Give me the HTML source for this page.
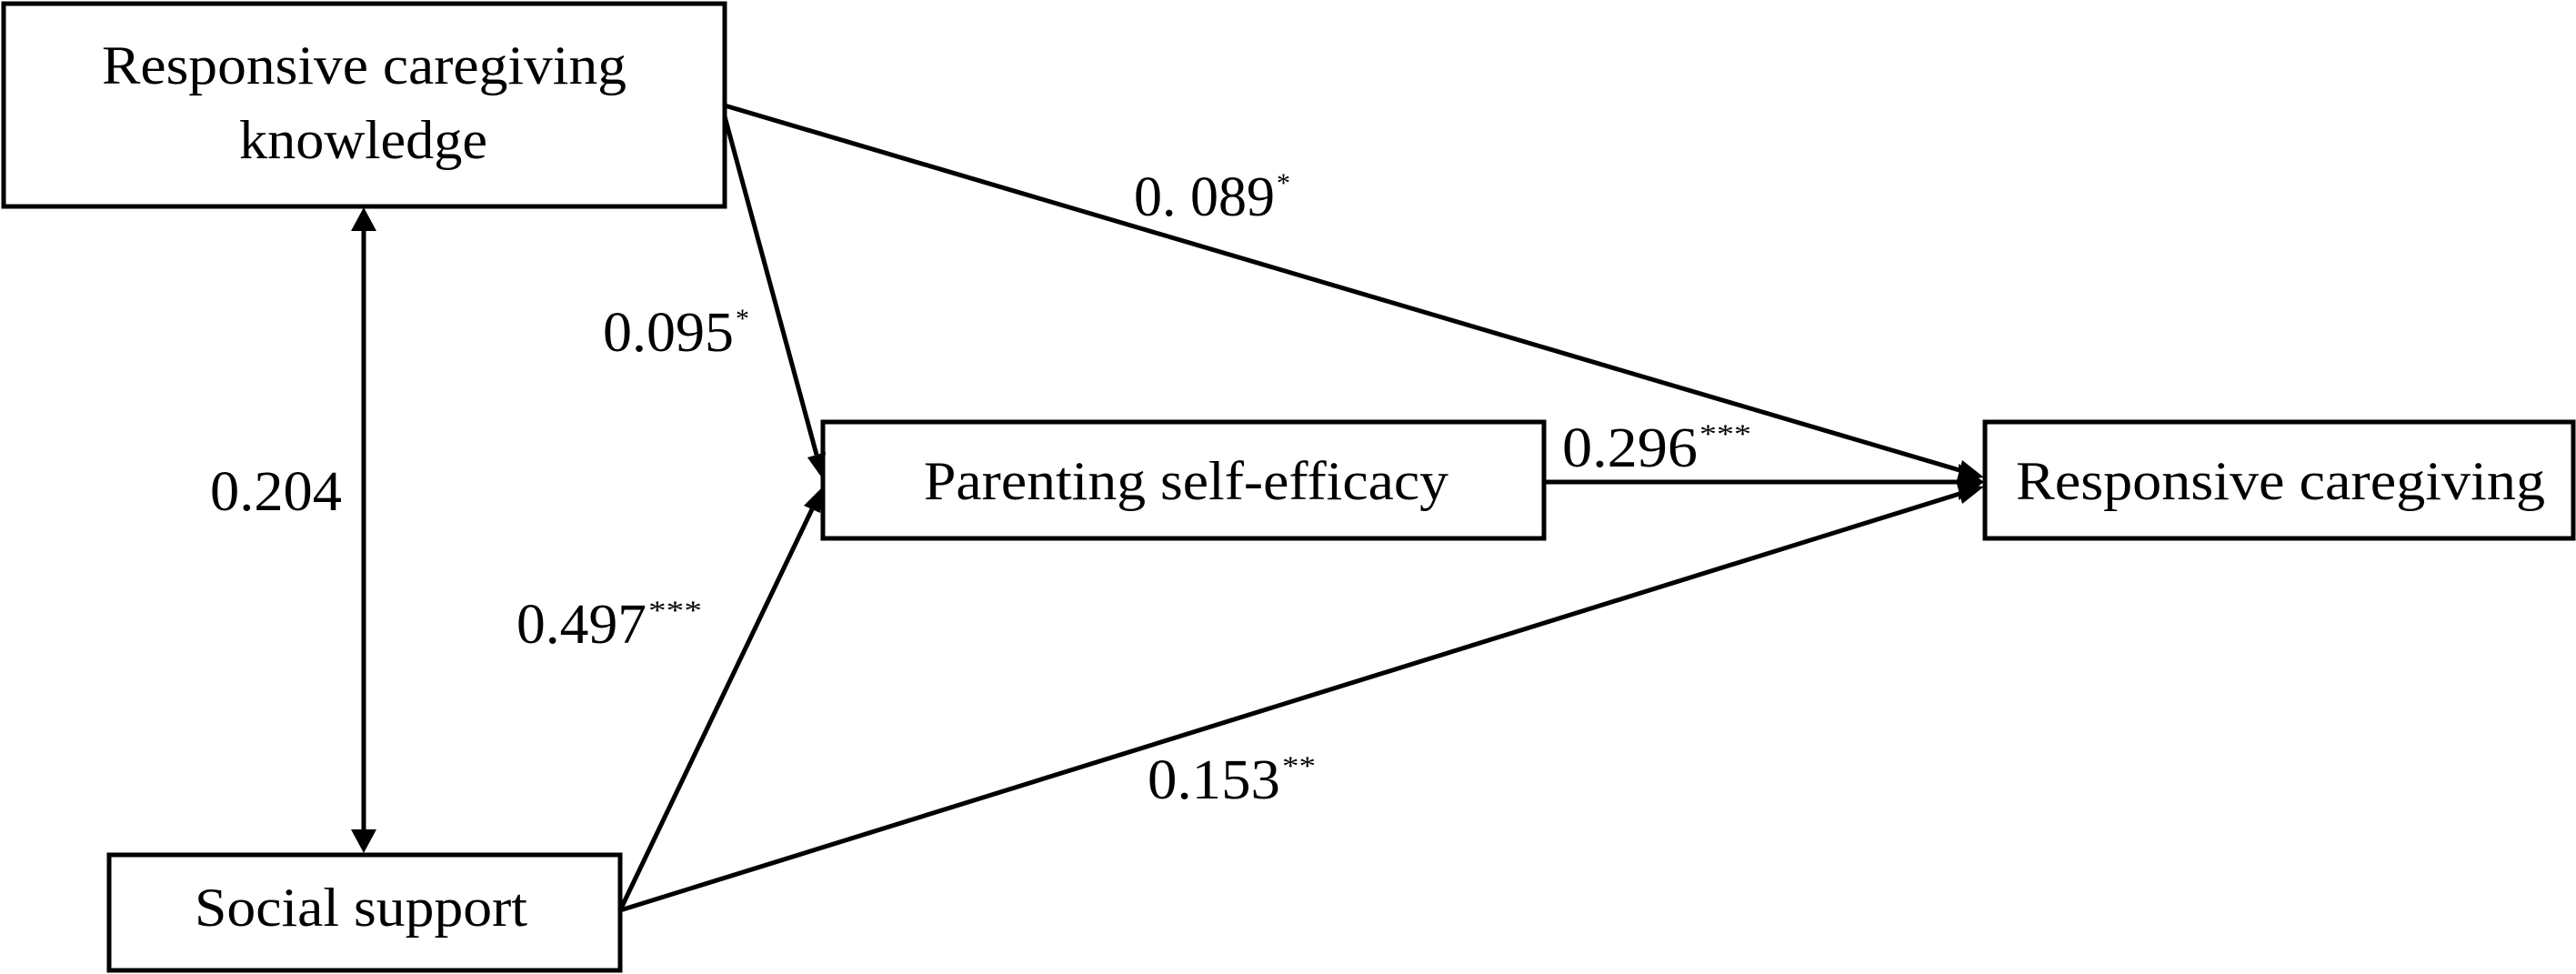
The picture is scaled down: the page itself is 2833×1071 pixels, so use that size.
<!DOCTYPE html>
<html><head><meta charset="utf-8"><style>html,body{margin:0;padding:0;background:#fff}svg{display:block}</style></head>
<body>
<svg width="2833" height="1071" viewBox="0 0 2833 1071" xmlns="http://www.w3.org/2000/svg" font-family="'Liberation Serif', serif" fill="#000">
<g fill="none" stroke="#000" stroke-width="5">
<rect x="4" y="4" width="793" height="223"/>
<rect x="120" y="940" width="562" height="127"/>
<rect x="905" y="464" width="793" height="128"/>
<rect x="2183" y="464" width="647" height="128"/>
<line x1="400" y1="250" x2="400" y2="916"/>
<line x1="797" y1="128" x2="898" y2="500"/>
<line x1="682" y1="1001" x2="893" y2="560"/>
<line x1="797" y1="116" x2="2155" y2="517"/>
<line x1="682" y1="1001" x2="2155" y2="543"/>
<line x1="1698" y1="530" x2="2156" y2="530"/>
</g>
<polygon points="400,228 386,254 414,254"/>
<polygon points="400,938 386,912 414,912"/>
<polygon points="905,527 908,497 888,503"/>
<polygon points="905,535 902,564 884,556"/>
<polygon points="2182,530 2154,510 2154,550"/>
<polygon points="2182,525 2152,528 2158,506"/>
<polygon points="2182,535 2158,554 2152,532"/>
<g font-size="60">
<text x="112" y="92" textLength="577" lengthAdjust="spacingAndGlyphs">Responsive caregiving</text>
<text x="263" y="174" textLength="273" lengthAdjust="spacingAndGlyphs">knowledge</text>
<text x="214" y="1018" textLength="366" lengthAdjust="spacingAndGlyphs">Social support</text>
<text x="1016" y="549" textLength="577" lengthAdjust="spacingAndGlyphs">Parenting self-efficacy</text>
<text x="2217" y="549" textLength="582" lengthAdjust="spacingAndGlyphs">Responsive caregiving</text>
</g>
<g font-size="62">
<text x="231" y="561" textLength="145" lengthAdjust="spacingAndGlyphs">0.204</text>
<text x="663" y="386" textLength="144" lengthAdjust="spacingAndGlyphs">0.095</text>
<text x="809" y="360" font-size="30">*</text>
<text x="568" y="707" textLength="143" lengthAdjust="spacingAndGlyphs">0.497</text>
<text x="713" y="681" font-size="30" textLength="59" lengthAdjust="spacingAndGlyphs">***</text>
<text x="1718" y="513" textLength="149" lengthAdjust="spacingAndGlyphs">0.296</text>
<text x="1869" y="487" font-size="30" textLength="57" lengthAdjust="spacingAndGlyphs">***</text>
<text x="1247" y="237" textLength="155" lengthAdjust="spacingAndGlyphs">0. 089</text>
<text x="1404" y="211" font-size="30">*</text>
<text x="1262" y="878" textLength="146" lengthAdjust="spacingAndGlyphs">0.153</text>
<text x="1410" y="852" font-size="30" textLength="37" lengthAdjust="spacingAndGlyphs">**</text>
</g>
</svg>
</body></html>
